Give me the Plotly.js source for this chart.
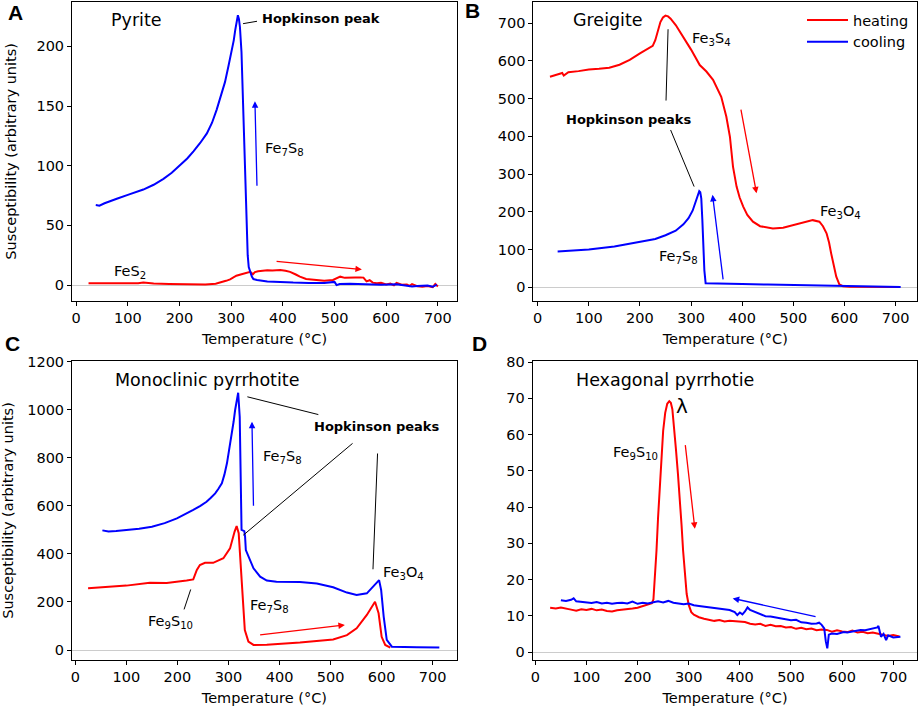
<!DOCTYPE html>
<html>
<head>
<meta charset="utf-8">
<script src="https://cdn.plot.ly/plotly-3.0.1.min.js"></script>
<style>html,body{margin:0;padding:0;background:#fff;}#chart{width:920px;height:708px;}</style>
</head>
<body>
<div id="chart"></div>
<script>
// ---------- Panel A: Pyrite ----------
const A_heat_T = [24, 40, 60, 80, 100, 120, 130, 150, 180, 200, 220, 250, 270, 280, 290, 298, 310, 320, 330, 337, 342, 346, 352, 360, 370, 380, 395, 405, 414, 425, 433, 445, 462, 480, 497, 505, 511, 520, 530, 540, 550, 556, 562, 568, 574, 582, 590, 600, 608, 615, 620, 630, 640, 645, 650, 660, 670, 680, 690, 695, 700];
const A_heat   = [1.5, 1.4, 1.6, 1.3, 1.5, 1.4, 2.0, 1.2, 0.8, 0.6, 0.7, 0.5, 1.0, 2.0, 3.5, 4.7, 7.8, 9.0, 10.3, 11.0, 9.0, 10.8, 11.5, 12.0, 12.3, 12.2, 12.6, 12.0, 11.0, 8.8, 7.0, 5.0, 4.2, 3.6, 4.2, 5.8, 7.0, 6.0, 6.4, 6.2, 6.3, 6.2, 3.0, 4.0, 2.0, 1.5, 1.8, 0.5, 1.2, -0.3, 1.8, 0.2, 0.5, -0.8, 0.8, -1.0, -1.5, -0.8, -1.8, 0.8, -1.2];
const A_cool_T = [38, 45, 55, 66, 80, 100, 115, 130, 150, 169, 185, 200, 215, 227, 240, 253, 263, 272, 280, 288, 295, 300, 305, 308, 311, 313, 315, 317, 320, 323, 326, 328, 330, 332, 334, 337, 340, 343, 350, 370, 395, 420, 450, 480, 500, 504, 510, 530, 560, 590, 620, 640, 650, 660, 680, 690, 698];
const A_cool   = [67, 66.5, 68.5, 70, 72.5, 75.5, 77.5, 80, 84, 89, 94, 100, 106, 112, 119, 127, 136, 147, 158, 170, 184, 194, 205, 214, 223, 226, 223, 216, 195, 155, 105, 70, 43, 25, 15, 10, 7, 5, 4.2, 3.0, 2.2, 2.0, 1.7, 1.6, 2.6, -0.1, 0.8, 1.0, 0.6, 0.2, 0.7, -0.4, -1.2, -0.8, -0.5, -1.5, 0.3];

// ---------- Panel B: Greigite ----------
const B_heat_T = [24, 30, 35, 40, 45, 48, 51, 55, 60, 80, 100, 120, 140, 160, 180, 200, 215, 225, 230, 235, 240, 245, 250, 255, 260, 270, 280, 290, 300, 317, 330, 343, 359, 369, 376, 382, 389, 395, 402, 410, 421, 435, 460, 480, 499, 520, 538, 551, 558, 565, 570, 574, 579, 584, 590, 597, 610, 640, 680, 708];
const B_heat   = [558, 560, 563, 564, 566, 568, 561, 566, 570, 573, 577, 579, 582, 590, 603, 620, 632, 640, 655, 680, 703, 715, 720, 718, 712, 695, 674, 652, 630, 589, 572, 550, 505, 452, 399, 320, 267, 238, 214, 192, 174, 162, 156, 158, 165, 172, 178, 174, 162, 143, 118, 90, 58, 28, 8, 3, 1.5, 1, 0.5, 0.5];
const B_cool_T = [39, 70, 100, 150, 200, 230, 250, 270, 285, 295, 303, 309, 313, 316, 318, 320, 322, 324, 326, 328.5, 340, 400, 450, 500, 550, 596, 650, 710];
const B_cool   = [95, 97, 100, 108, 120, 128, 138, 150, 167, 183, 203, 227, 248, 255, 252, 235, 180, 110, 45, 10.6, 10, 8.5, 7.5, 6, 4.5, 2.6, 1.5, 1];

// ---------- Panel C: Monoclinic pyrrhotite ----------
const C_heat_T = [25, 60, 100, 146, 179, 218, 231, 238, 244, 254, 270, 290, 303, 312, 316, 320, 324, 328, 332, 339, 349, 375, 440, 505, 532, 551, 571, 587, 594, 600, 607, 617];
const C_heat   = [257, 262, 268, 280, 279, 289, 294, 333, 354, 363, 363, 382, 423, 493, 516, 486, 361, 208, 83, 35, 21, 22, 31, 44, 62, 90, 146, 201, 153, 55, 21, 10];
const C_cool_T = [53, 65, 80, 100, 125, 150, 175, 199, 215, 231, 245, 257, 265, 274, 280, 287, 292, 297, 301, 306, 310, 313, 316, 319, 322, 324, 325.6, 331, 332.5, 334, 339, 349, 362, 375, 394, 440, 473, 505, 532, 551, 571, 584, 595, 599, 604, 610, 620, 669, 713];
const C_cool   = [498, 493, 495, 499, 505, 513, 528, 548, 564, 583, 600, 617, 633, 652, 670, 694, 730, 777, 830, 888, 950, 999, 1040, 1071, 971, 694, 500, 495, 472, 416, 388, 340, 305, 289, 284, 283, 277, 261, 239, 229, 236, 264, 291, 250, 139, 42, 14, 11, 10];

// ---------- Panel D: Hexagonal pyrrhotite ----------
const D_heat_T = [29, 40, 50, 60, 70, 80, 90, 100, 110, 120, 130, 140, 150, 160, 170, 180, 190, 200, 210, 220, 228, 231, 234, 237, 240, 244, 247, 250, 254, 258, 262, 265, 268, 271, 275, 279, 283, 286, 289, 292, 296, 300, 305, 310, 320, 330, 340, 350, 360, 370, 380, 390, 400, 410, 420, 430, 440, 450, 460, 470, 480, 490, 500, 510, 520, 530, 540, 550, 560, 570, 580, 590, 600, 610, 620, 630, 640, 650, 660, 670, 680, 690, 700, 712];
const D_heat   = [12.2, 12.0, 12.3, 11.9, 11.7, 11.4, 11.8, 11.6, 11.9, 11.5, 11.7, 11.3, 11.2, 11.5, 11.6, 11.8, 12.0, 12.2, 12.6, 13.0, 13.5, 14.5, 20, 28, 37, 46.5, 54, 61, 66, 68.5, 69.2, 68.8, 67, 63, 56, 49, 42, 35, 28, 22, 16, 13, 11, 10.3, 9.6, 9.2, 8.8, 8.6, 8.8, 8.4, 8.6, 8.5, 8.2, 8.3, 7.8, 7.6, 7.8, 7.2, 7.5, 7.1, 7.2, 6.8, 6.9, 6.4, 6.7, 6.3, 6.5, 6.0, 6.2, 6.1, 5.6, 6.0, 5.7, 5.5, 5.9, 5.4, 5.6, 5.2, 5.4, 5.1, 4.6, 4.4, 4.7, 4.3];
const D_cool_T = [50, 60, 70, 75, 80, 90, 100, 110, 120, 130, 140, 150, 160, 170, 180, 190, 200, 210, 220, 230, 240, 250, 260, 270, 280, 290, 300, 310, 320, 330, 340, 350, 360, 370, 380, 390, 395, 400, 405, 410, 415, 420, 430, 440, 450, 460, 470, 480, 490, 500, 510, 520, 530, 540, 550, 555, 560, 565, 568, 571, 574, 580, 590, 603, 610, 620, 636, 645, 655, 669, 671, 676, 681, 686, 690, 700, 714];
const D_cool   = [14.3, 14.1, 14.4, 14.8, 14.0, 13.9, 13.7, 13.5, 13.8, 13.4, 13.6, 13.3, 13.5, 13.6, 13.4, 13.9, 13.3, 13.6, 13.4, 13.8, 14.0, 13.7, 14.1, 13.6, 13.5, 13.2, 13.4, 12.9, 12.7, 12.5, 12.3, 12.2, 12.0, 11.8, 11.6, 11.0, 10.2, 10.9, 10.4, 11.2, 12.3, 11.6, 11.0, 10.4, 9.9, 9.8, 9.6, 9.2, 9.0, 8.8, 8.9, 8.2, 8.1, 7.8, 7.9, 8.1, 7.5, 6.5, 3.0, 1.0, 4.8, 5.1, 5.0, 5.5, 5.4, 5.6, 6.1, 6.0, 6.4, 6.8, 7.2, 4.2, 5.0, 3.3, 4.6, 4.0, 4.2];

const xTicks = [0, 100, 200, 300, 400, 500, 600, 700];
const seriesNames = ['heating', 'cooling'];

const RED = '#ff0000', BLUE = '#0000ff';
const FONT = 'DejaVu Sans, sans-serif';

function line(x, y, color, xa, ya, name, show) {
  return {x: x, y: y, type: 'scatter', mode: 'lines', line: {color: color, width: 2},
          xaxis: xa, yaxis: ya, name: name, showlegend: !!show, hoverinfo: 'skip'};
}
const data = [
  line(B_heat_T, B_heat, RED, 'x2', 'y2', seriesNames[0], true),
  line(B_cool_T, B_cool, BLUE, 'x2', 'y2', seriesNames[1], true),
  line(A_heat_T, A_heat, RED, 'x', 'y', seriesNames[0]),
  line(A_cool_T, A_cool, BLUE, 'x', 'y', seriesNames[1]),
  line(C_heat_T, C_heat, RED, 'x3', 'y3', seriesNames[0]),
  line(C_cool_T, C_cool, BLUE, 'x3', 'y3', seriesNames[1]),
  line(D_heat_T, D_heat, RED, 'x4', 'y4', seriesNames[0]),
  line(D_cool_T, D_cool, BLUE, 'x4', 'y4', seriesNames[1])
];

const W = 920, H = 708;
function xax(px0, px1, range, anchor) {
  return {domain: [px0 / W, px1 / W], range: range, anchor: anchor,
    showline: true, mirror: true, linecolor: 'black', linewidth: 1,
    ticks: 'outside', ticklen: 4, tickwidth: 1, tickcolor: 'black',
    tickvals: xTicks, showgrid: false, zeroline: false,
    tickfont: {size: 14.5, color: 'black'},
    title: {text: 'Temperature (°C)', font: {size: 14.5, color: 'black'}, standoff: 8}};
}
function yax(py0, py1, range, anchor, dtick, title, standoff) {
  const o = {domain: [1 - py1 / H, 1 - py0 / H], range: range, anchor: anchor,
    showline: true, mirror: true, linecolor: 'black', linewidth: 1,
    ticks: 'outside', ticklen: 4, tickwidth: 1, tickcolor: 'black',
    dtick: dtick, tick0: 0, showgrid: false,
    zeroline: true, zerolinecolor: '#cccccc', zerolinewidth: 1,
    tickfont: {size: 14.5, color: 'black'}};
  if (title) o.title = {text: title, font: {size: 14.5, color: 'black'}, standoff: standoff};
  return o;
}

const ann = [];
const shapes = [];
function txt(xr, yr, x, y, t, size, bold, xanchor) {
  ann.push({xref: xr, yref: yr, x: x, y: y, text: bold ? '<b>' + t + '</b>' : t, showarrow: false,
    xanchor: xanchor || 'center', yanchor: 'middle',
    font: {size: size, color: 'black', family: FONT}});
}
function arrow(xr, yr, x0, y0, x1, y1, color) {
  ann.push({xref: xr, yref: yr, axref: xr, ayref: yr, x: x1, y: y1, ax: x0, ay: y0, text: '',
    showarrow: true, arrowhead: 2, arrowsize: 1, arrowwidth: 1.3, arrowcolor: color, standoff: 0, startstandoff: 0});
}
function seg(xr, yr, x0, y0, x1, y1) {
  shapes.push({type: 'line', xref: xr, yref: yr, x0: x0, y0: y0, x1: x1, y1: y1, line: {color: 'black', width: 1}});
}
const FE7S8 = 'Fe<sub>7</sub>S<sub>8</sub>';
const FE3O4 = 'Fe<sub>3</sub>O<sub>4</sub>';
const FE9S10 = 'Fe<sub>9</sub>S<sub>10</sub>';

// Panel A
txt('x', 'y', 117, 222, 'Pyrite', 17.5);
txt('x', 'y', 356, 223, 'Hopkinson peak', 13, true, 'left');
seg('x', 'y', 323, 219, 350, 221);
txt('x', 'y', 404, 114, FE7S8, 14.5);
txt('x', 'y', 105, 11, 'FeS<sub>2</sub>', 14.5);
arrow('x', 'y', 350, 82, 346, 154, BLUE);
arrow('x', 'y', 385, 20, 553, 13, RED);

// Panel B
txt('x2', 'y2', 137, 709, 'Greigite', 17.5);
txt('x2', 'y2', 340, 658, 'Fe<sub>3</sub>S<sub>4</sub>', 14.5);
txt('x2', 'y2', 178, 446, 'Hopkinson peaks', 13, true);
seg('x2', 'y2', 255, 684, 251, 495);
seg('x2', 'y2', 260, 417, 306, 267);
arrow('x2', 'y2', 397, 475, 428, 249, RED);
arrow('x2', 'y2', 363, 17, 342, 245, BLUE);
txt('x2', 'y2', 593, 199, FE3O4, 14.5);
txt('x2', 'y2', 276, 80, FE7S8, 14.5);

// Panel C
txt('x3', 'y3', 257, 1126, 'Monoclinic pyrrhotite', 17.5);
txt('x3', 'y3', 589, 929, 'Hopkinson peaks', 13, true);
seg('x3', 'y3', 337, 1054, 476, 980);
seg('x3', 'y3', 543, 860, 329, 478);
seg('x3', 'y3', 592, 818, 583, 336);
arrow('x3', 'y3', 349, 594, 346, 950, BLUE);
arrow('x3', 'y3', 359, 62, 528, 104, RED);
txt('x3', 'y3', 405, 804, FE7S8, 14.5);
txt('x3', 'y3', 380, 183, FE7S8, 14.5);
txt('x3', 'y3', 643, 322, FE3O4, 14.5);
txt('x3', 'y3', 186, 118, FE9S10, 14.5);
seg('x3', 'y3', 213, 169, 226, 252);

// Panel D
txt('x4', 'y4', 254, 75.1, 'Hexagonal pyrrhotie', 17.5);
txt('x4', 'y4', 287, 68, 'λ', 20);
txt('x4', 'y4', 195, 54.9, FE9S10, 14.5);
arrow('x4', 'y4', 293, 57.5, 312, 34, RED);
arrow('x4', 'y4', 551, 9.7, 386, 14.8, BLUE);

// Panel letters
[['A', 15, 12.5], ['B', 472, 11], ['C', 12, 343], ['D', 479, 343]].forEach(function (p) {
  ann.push({xref: 'paper', yref: 'paper', x: p[1] / W, y: 1 - p[2] / H, text: '<b>' + p[0] + '</b>',
    showarrow: false, xanchor: 'center', yanchor: 'middle',
    font: {size: 21, color: 'black', family: 'Liberation Sans, Arial, sans-serif'}});
});

const layout = {
  width: W, height: H,
  margin: {l: 0, r: 0, t: 0, b: 0},
  paper_bgcolor: 'white', plot_bgcolor: 'white',
  font: {family: FONT, color: 'black'},
  showlegend: true,
  legend: {x: 802 / W, y: 1 - 4 / H, xanchor: 'left', yanchor: 'top', bgcolor: 'rgba(0,0,0,0)',
           font: {size: 14.5, color: 'black'}, itemwidth: 41, tracegroupgap: 0},
  xaxis: xax(72, 457, [-8, 737], 'y'),
  yaxis: yax(1.7, 301, [-13.4, 237.4], 'x', 50, 'Susceptibility (arbitrary units)', 16),
  xaxis2: xax(533.3, 917.3, [-8.6, 742.5], 'y2'),
  yaxis2: yax(1.7, 301, [-36.3, 757], 'x2', 100),
  xaxis3: xax(72, 456.7, [-6.5, 747], 'y3'),
  yaxis3: yax(361, 660, [-41.6, 1203], 'x3', 200, 'Susceptibility (arbitrary units)', 10),
  xaxis4: xax(532.7, 917.3, [-5.1, 747], 'y4'),
  yaxis4: yax(361, 660, [-2.2, 80.3], 'x4', 10),
  annotations: ann,
  shapes: shapes
};
Plotly.newPlot('chart', data, layout, {displayModeBar: false, staticPlot: true});
</script>
</body>
</html>
